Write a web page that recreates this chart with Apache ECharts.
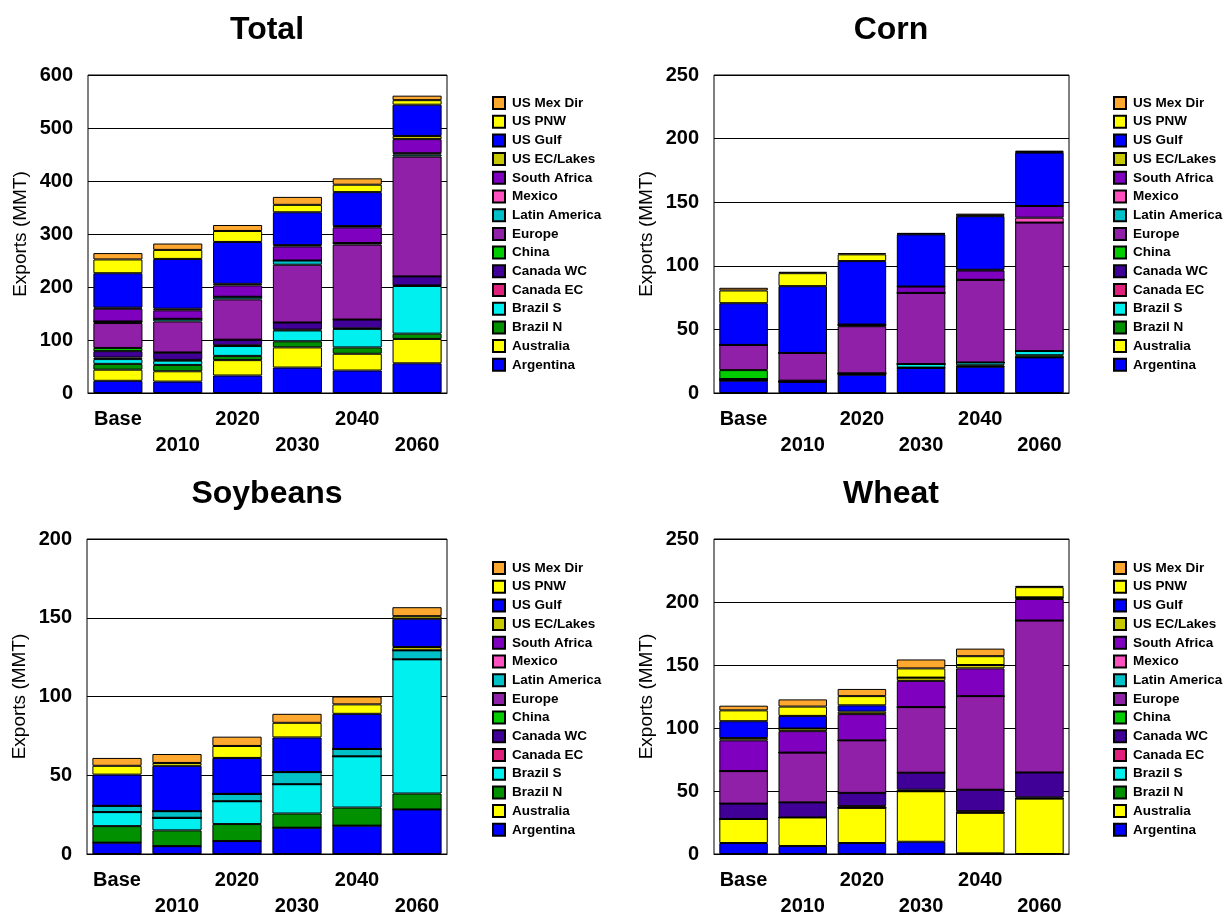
<!DOCTYPE html>
<html>
<head>
<meta charset="utf-8">
<script src="https://cdn.jsdelivr.net/npm/echarts@6/dist/echarts.min.js"></script>
<style>
html, body { margin: 0; background: #fff; }
#main { width: 1231px; height: 919px; }
</style>
</head>
<body>
<div id="main"></div>
<script>
const categories = ['Base', '2010', '2020', '2030', '2040', '2060'];
// stack order, bottom to top
const seriesNames = ['Argentina', 'Australia', 'Brazil N', 'Brazil S', 'Canada EC', 'Canada WC', 'China',
	'Europe', 'Latin America', 'Mexico', 'South Africa', 'US EC/Lakes', 'US Gulf', 'US PNW', 'US Mex Dir'];
const seriesColors = ['#0000ff', '#ffff00', '#009000', '#00f0f0', '#e0207a', '#400098', '#00cc00',
	'#9020a8', '#00c0c8', '#ff50c0', '#8000c0', '#c8c800', '#0000ff', '#ffff00', '#ffa830'];

// one row per series (same order as seriesNames), one column per category
const totalValues = [
	[23, 21.5, 33, 48, 42.4, 56],
	[21, 19.5, 29, 38, 31.6, 46],
	[11, 12, 8, 11.5, 12, 10],
	[9, 8, 18.6, 20.5, 35, 90],
	[3, 1.5, 1.4, 1.6, 1, 1],
	[12, 13.5, 10.6, 13.4, 16.6, 17],
	[6, 0.5, 0, 0, 0, 0],
	[47, 58.5, 76, 109, 141.4, 226],
	[3, 5, 5, 8, 3, 4],
	[0, 0, 0, 0, 0, 2.5],
	[24, 16, 21.4, 26.6, 29.6, 26.5],
	[2, 3, 3, 2.4, 2.4, 6],
	[65, 94, 79, 62, 64, 59],
	[26, 17, 20.7, 14, 14, 8.5],
	[12, 12, 11.3, 15, 12, 8.5]
];
const cornValues = [
	[9.7, 8.9, 14.4, 19.7, 20.7, 28],
	[0, 0, 0, 0, 0, 0],
	[0.8, 0, 0.5, 0.3, 1.1, 1.7],
	[0.5, 0, 0.6, 2.8, 2.2, 3.3],
	[0, 0, 0, 0, 0, 0],
	[0, 0.8, 0, 0, 0, 0],
	[7, 0, 0, 0, 0, 0],
	[19.8, 21.8, 37, 55.9, 65, 101],
	[0, 0, 0.6, 0, 0, 0],
	[0, 0, 0, 0, 0, 3.8],
	[0, 0, 0.7, 5, 7.3, 9.2],
	[0, 0, 0, 0, 0.6, 0],
	[32.8, 52.5, 49.9, 41, 42.1, 42],
	[10, 10.2, 5.3, 0.5, 0.6, 0.5],
	[2.1, 1.1, 1, 0.5, 1.4, 1]
];
const soyValues = [
	[7.2, 5, 8.2, 16.7, 18, 28.3],
	[0, 0, 0, 0, 0, 0],
	[10.5, 10, 10.8, 9, 11.5, 10.1],
	[8.9, 8, 14.5, 18.6, 32.5, 85.2],
	[0, 0, 0, 0, 0, 0],
	[0, 0, 0, 0, 0, 0],
	[0, 0, 0, 0, 0, 0],
	[0, 0, 0, 0, 0, 0],
	[4, 4.2, 4.7, 7.7, 4.7, 5.7],
	[0, 0, 0, 0, 0, 0],
	[0, 0, 0, 0, 0, 0],
	[0, 0, 0, 0, 0, 2.1],
	[19.8, 28.8, 22.8, 22, 22.3, 18],
	[5.6, 1.8, 7.6, 9.3, 6, 1.6],
	[5, 5.7, 5.9, 5.7, 5, 5.7]
];
const wheatValues = [
	[8.7, 6.3, 8.7, 9.7, 0.5, 0],
	[19.1, 22.7, 28, 40.1, 32.3, 44],
	[0, 0, 0, 0, 0, 0],
	[0, 0, 0, 0, 0, 0],
	[0, 0, 1.3, 1.2, 1.2, 1],
	[12.2, 12, 10.5, 13.5, 17, 19.7],
	[0, 0, 0, 0, 0, 0],
	[25.8, 39.5, 41.7, 52.1, 74.3, 120.6],
	[0, 0, 0, 0, 0, 0],
	[0, 0, 0, 0, 0, 0],
	[24.4, 17, 20.8, 20.8, 22, 17.1],
	[1.8, 2.1, 2, 2.6, 2.7, 1.3],
	[13.4, 10, 5, 0, 0, 0],
	[8.6, 7.4, 7.3, 7.3, 7, 8.1],
	[3.7, 5.7, 5.7, 7.1, 6, 1]
];

const FONT = 'Arial, "Liberation Sans", sans-serif';

const panels = [
	{title: 'Total', values: totalValues, max: 600, interval: 100, left: 88, top: 75, width: 359, height: 318, titleX: 267, legendLeft: 492, legendTop: 96},
	{title: 'Corn', values: cornValues, max: 250, interval: 50, left: 714, top: 75, width: 355, height: 318, titleX: 891, legendLeft: 1113, legendTop: 96},
	{title: 'Soybeans', values: soyValues, max: 200, interval: 50, left: 87, top: 539, width: 360, height: 319, titleX: 267, legendLeft: 492, legendTop: 561},
	{title: 'Wheat', values: wheatValues, max: 250, interval: 50, left: 714, top: 539, width: 355, height: 319, titleX: 891, legendLeft: 1113, legendTop: 561}
];

let option = {
	backgroundColor: '#fff',
	animation: false,
	title: [],
	legend: [],
	grid: [],
	xAxis: [],
	yAxis: [],
	series: []
};

panels.forEach(function (p, i) {
	option.title.push({
		text: p.title,
		left: p.titleX,
		top: p.top - 61,
		textAlign: 'center',
		padding: 0,
		textStyle: {fontFamily: FONT, fontSize: 32, fontWeight: 'bold', color: '#000'}
	});
	option.legend.push({
		orient: 'vertical',
		left: p.legendLeft,
		top: p.legendTop,
		padding: 0,
		itemWidth: 12,
		itemHeight: 12,
		itemGap: 4.7,
		icon: 'rect',
		selectedMode: false,
		data: seriesNames.slice().reverse(),
		textStyle: {fontFamily: FONT, fontSize: 13.5, fontWeight: 'bold', color: '#000', lineHeight: 14, padding: [0, 0, 0, 2]}
	});
	option.grid.push({
		left: p.left, top: p.top, width: p.width, height: p.height,
		show: true, borderColor: '#000', borderWidth: 1, backgroundColor: '#fff'
	});
	option.xAxis.push({
		type: 'category',
		gridIndex: i,
		data: categories,
		axisLine: {lineStyle: {color: '#000', width: 1}},
		axisTick: {show: false},
		axisLabel: {
			interval: 0,
			margin: 13,
			fontFamily: FONT, fontSize: 20, fontWeight: 'bold', color: '#000', lineHeight: 26,
			formatter: function (v, idx) { return idx % 2 ? '\n' + v : v; }
		}
	});
	option.yAxis.push({
		type: 'value',
		gridIndex: i,
		min: 0, max: p.max, interval: p.interval,
		name: 'Exports (MMT)',
		nameLocation: 'middle',
		nameGap: 58,
		nameTextStyle: {fontFamily: FONT, fontSize: 19, color: '#000'},
		axisLine: {show: false},
		axisTick: {show: false},
		axisLabel: {margin: 15, fontFamily: FONT, fontSize: 20, fontWeight: 'bold', color: '#000'},
		splitLine: {lineStyle: {color: '#000', width: 1}}
	});
	seriesNames.forEach(function (name, k) {
		option.series.push({
			name: name,
			type: 'bar',
			stack: 'stack' + i,
			xAxisIndex: i,
			yAxisIndex: i,
			barCategoryGap: '18%',
			data: p.values[k],
			itemStyle: {color: seriesColors[k], borderColor: '#000', borderWidth: 1}
		});
	});
});

let myChart = echarts.init(document.getElementById('main'));
myChart.setOption(option);
</script>
</body>
</html>
